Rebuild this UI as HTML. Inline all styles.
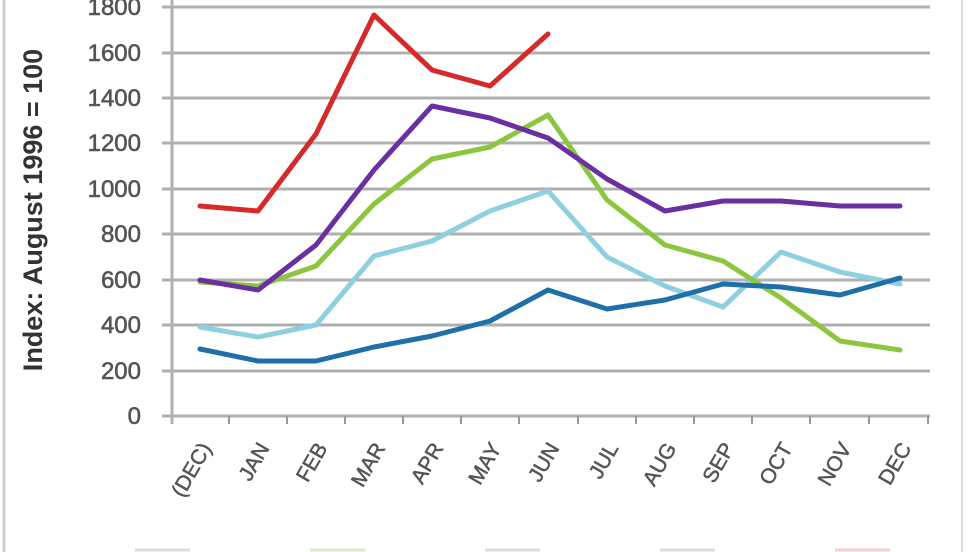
<!DOCTYPE html>
<html><head><style>body{margin:0;background:#fff}svg{display:block}</style></head><body>
<svg width="980" height="552" xmlns="http://www.w3.org/2000/svg" font-family="Liberation Sans, sans-serif">
<rect x="0" y="0" width="980" height="552" fill="#fff"/>
<line x1="4" y1="0" x2="4" y2="552" stroke="#ccc" stroke-width="3"/>
<line x1="962" y1="0" x2="962" y2="552" stroke="#ddd" stroke-width="2"/>
<g stroke="#b0b0b0" stroke-width="3">
<line x1="162" y1="7" x2="930" y2="7"/><line x1="162" y1="53" x2="930" y2="53"/><line x1="162" y1="98" x2="930" y2="98"/>
<line x1="162" y1="143" x2="930" y2="143"/><line x1="162" y1="189" x2="930" y2="189"/><line x1="162" y1="234" x2="930" y2="234"/>
<line x1="162" y1="280" x2="930" y2="280"/><line x1="162" y1="325" x2="930" y2="325"/><line x1="162" y1="371" x2="930" y2="371"/>
<line x1="162" y1="416" x2="930" y2="416"/><line x1="172" y1="0" x2="172" y2="424"/>
</g>
<g stroke="#999" stroke-width="2">
<line x1="229" y1="416" x2="229" y2="424"/><line x1="287" y1="416" x2="287" y2="424"/><line x1="345" y1="416" x2="345" y2="424"/><line x1="403" y1="416" x2="403" y2="424"/><line x1="461" y1="416" x2="461" y2="424"/><line x1="519" y1="416" x2="519" y2="424"/><line x1="578" y1="416" x2="578" y2="424"/><line x1="636" y1="416" x2="636" y2="424"/><line x1="694" y1="416" x2="694" y2="424"/><line x1="752" y1="416" x2="752" y2="424"/><line x1="810" y1="416" x2="810" y2="424"/><line x1="869" y1="416" x2="869" y2="424"/><line x1="928" y1="416" x2="928" y2="424"/>
</g>
<g fill="#555" font-size="24" text-anchor="end" stroke="#555" stroke-width="0.6">
<text x="141" y="15">1800</text><text x="141" y="61">1600</text><text x="141" y="106">1400</text><text x="141" y="151">1200</text><text x="141" y="197">1000</text><text x="141" y="242">800</text><text x="141" y="288">600</text><text x="141" y="333">400</text><text x="141" y="379">200</text><text x="141" y="424">0</text>
</g>
<text transform="translate(42,210) rotate(-90)" text-anchor="middle" font-size="27" font-weight="bold" fill="#333">Index: August 1996 = 100</text>
<g fill="#555" font-size="21" text-anchor="end" stroke="#555" stroke-width="0.5">
<text transform="translate(212,448) rotate(-60)">(DEC)</text>
<text transform="translate(270,448) rotate(-60)">JAN</text>
<text transform="translate(328,448) rotate(-60)">FEB</text>
<text transform="translate(386,448) rotate(-60)">MAR</text>
<text transform="translate(444,448) rotate(-60)">APR</text>
<text transform="translate(502,448) rotate(-60)">MAY</text>
<text transform="translate(560,448) rotate(-60)">JUN</text>
<text transform="translate(619,448) rotate(-60)">JUL</text>
<text transform="translate(677,448) rotate(-60)">AUG</text>
<text transform="translate(735,448) rotate(-60)">SEP</text>
<text transform="translate(793,448) rotate(-60)">OCT</text>
<text transform="translate(852,448) rotate(-60)">NOV</text>
<text transform="translate(912,448) rotate(-60)">DEC</text>
</g>
<g fill="none" stroke-width="5" stroke-linejoin="round" stroke-linecap="round">
<polyline stroke="#8fd0e0" points="200,327 258,337 316,325 374,256 432,241 490,211 548,191 607,257 665,286 723,307 781,252 840,272 900,284"/>
<polyline stroke="#8cc63f" points="200,282 258,286 316,266 374,204 432,159 490,147 548,115 607,200 665,245 723,261 781,298 840,341 900,350"/>
<polyline stroke="#1f6fa8" points="200,349 258,361 316,361 374,347 432,336 490,321 548,290 607,309 665,300 723,284 781,287 840,295 900,278"/>
<polyline stroke="#6a2fa0" points="200,280 258,290 316,245 374,170 432,106 490,118 548,138 607,179 665,211 723,201 781,201 840,206 900,206"/>
<polyline stroke="#d42a2a" points="200,206 258,211 316,134 374,15 432,70 490,86 548,34"/>
</g>
<g stroke-width="3">
<line x1="135" y1="550" x2="190" y2="550" stroke="#ddd"/>
<line x1="310" y1="550" x2="365" y2="550" stroke="#dde8c8"/>
<line x1="485" y1="550" x2="540" y2="550" stroke="#ddd"/>
<line x1="660" y1="550" x2="715" y2="550" stroke="#ddd"/>
<line x1="835" y1="550" x2="890" y2="550" stroke="#f0d0d0"/>
</g>
</svg>
</body></html>
